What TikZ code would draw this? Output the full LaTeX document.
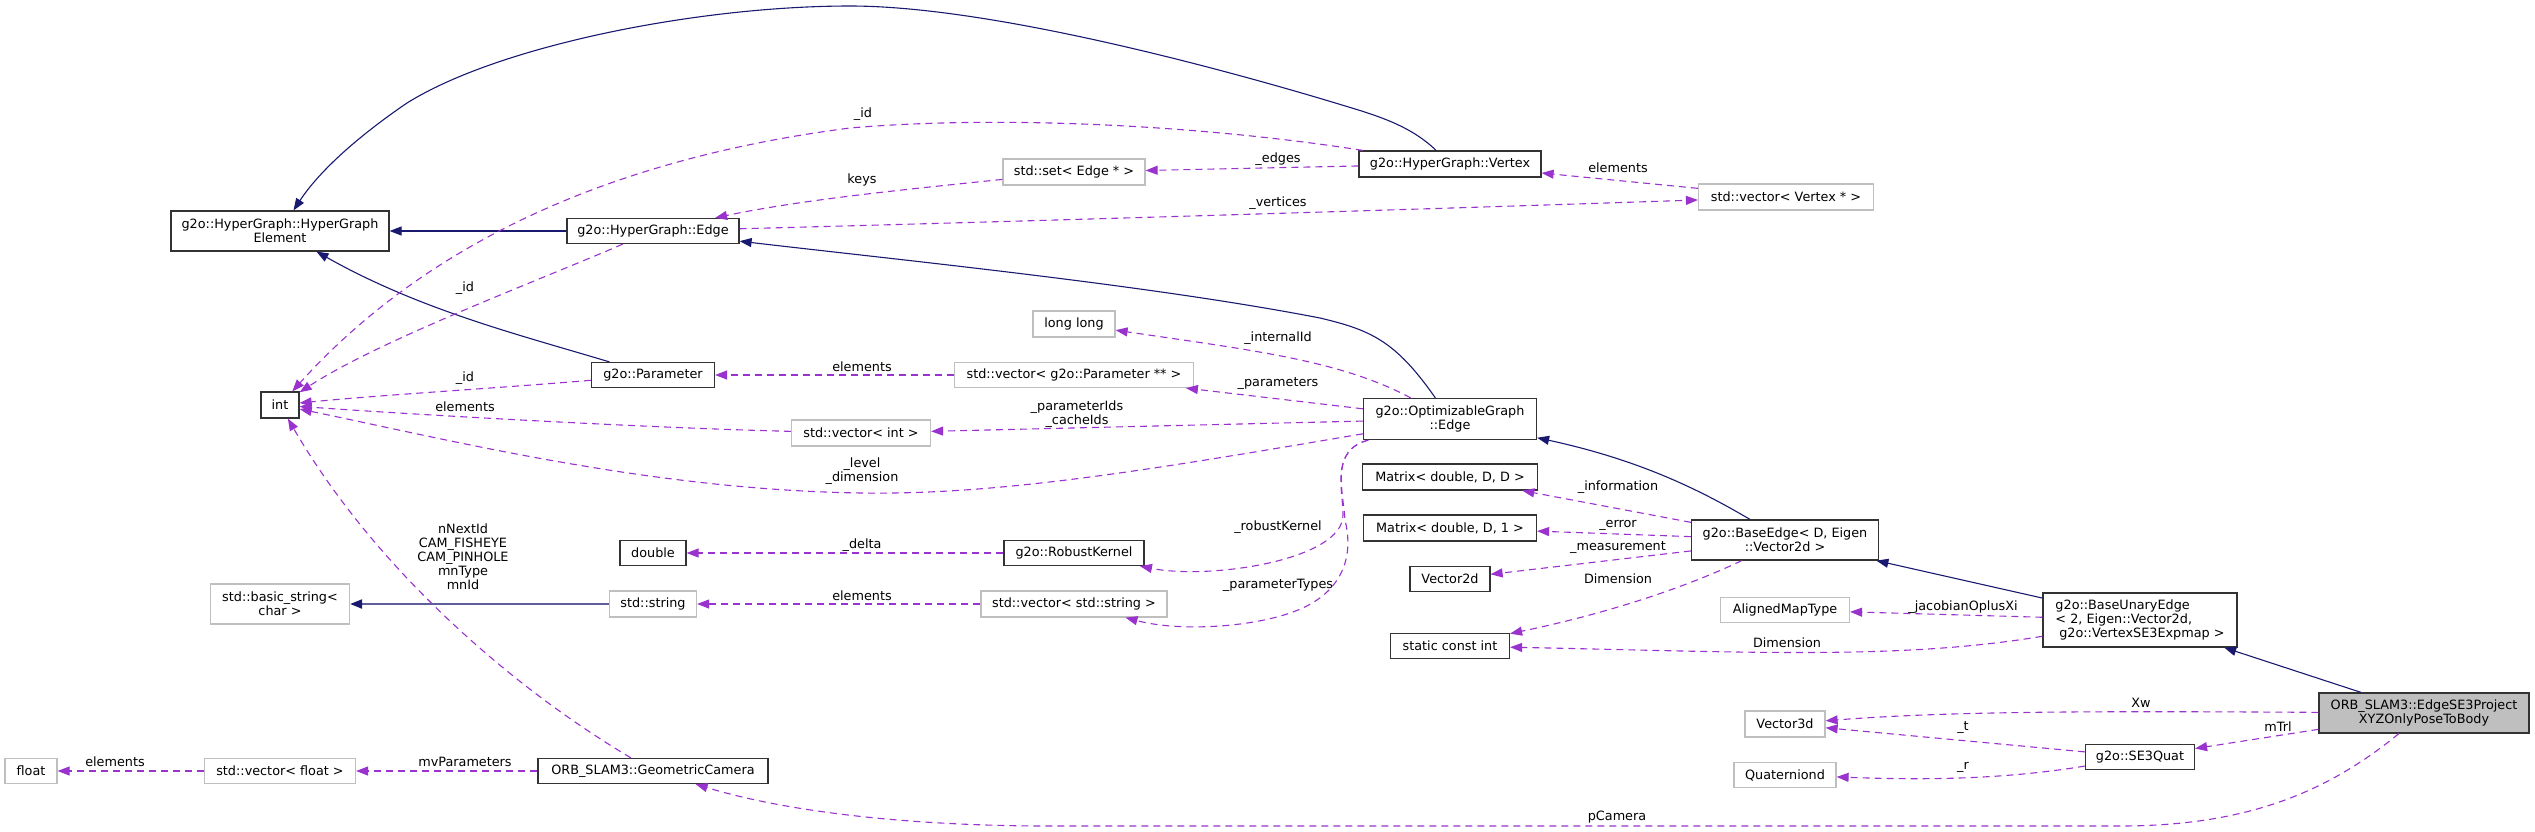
\documentclass[tikz,border=0pt]{standalone}
\usepackage{fontspec}
\setmainfont{DejaVu Sans}
\usetikzlibrary{arrows.meta}
\definecolor{navyline}{HTML}{191970}
\definecolor{orchid}{HTML}{9A32CD}
\definecolor{boxgray}{HTML}{BFBFBF}

\begin{document}
\begin{tikzpicture}[
    x=1pt, y=-1pt,
    every node/.style={font=\fontsize{12.8}{14}\selectfont, align=center, inner sep=0pt},
    sz/.style 2 args={minimum width=#1pt, minimum height=#2pt},
    box/.style={rectangle, draw, line width=1.2pt, fill=white},
    cls/.style={box, draw=black!80},
    ext/.style={box, draw=boxgray},
    focus/.style={box, draw=black!80, fill=boxgray},
    inherit/.style={-{Triangle[length=12pt, width=9pt]}, line width=1.1pt, draw=navyline},
    instance/.style={-{Triangle[length=12pt, width=9pt, color=navyline]}, line width=2pt, draw=navyline!70},
    member/.style={-{Triangle[length=12pt, width=9pt]}, line width=1.1pt, draw=orchid, dash pattern=on 7pt off 5pt}
]
\useasboundingbox (0,0) rectangle (2535,831);

% Klassen
\node[cls, sz={218}{40}] (hge) at (280,231) {g2o::HyperGraph::HyperGraph\\Element};
\node[cls, sz={172}{25}] (hgedge) at (653,231) {g2o::HyperGraph::Edge};
\node[cls, sz={123}{25}] (param) at (653,375) {g2o::Parameter};
\node[cls, sz={38}{26}] (int) at (280,405) {int};
\node[ext, sz={142}{26}] (edgeset) at (1074,172) {std::set< Edge * >};
\node[cls, sz={182}{26}] (vertex) at (1450,164) {g2o::HyperGraph::Vertex};
\node[ext, sz={175}{26}] (vertexvec) at (1786,197) {std::vector< Vertex * >};
\node[ext, sz={82}{26}] (longlong) at (1074,324) {long long};
\node[ext, sz={239}{25}] (paramvec) at (1074,375) {std::vector< g2o::Parameter ** >};
\node[ext, sz={139}{26}] (intvec) at (861,433) {std::vector< int >};
\node[cls, sz={173}{41}] (optedge) at (1450,419) {g2o::OptimizableGraph\\::Edge};
\node[cls, sz={175}{26}] (infomat) at (1450,477) {Matrix< double, D, D >};
\node[cls, sz={173}{26}] (errmat) at (1450,528) {Matrix< double, D, 1 >};
\node[cls, sz={80}{25}] (vectwo) at (1450,579) {Vector2d};
\node[cls, sz={119}{25}] (constint) at (1450,646) {static const int};
\node[cls, sz={140}{25}] (kernel) at (1074,553) {g2o::RobustKernel};
\node[ext, sz={186}{26}] (stringvec) at (1074,604) {std::vector< std::string >};
\node[cls, sz={66}{25}] (double) at (653,553) {double};
\node[ext, sz={87}{26}] (string) at (653,604) {std::string};
\node[ext, sz={139}{40}] (basicstr) at (280,604) {std::basic\_string<\\char >};
\node[ext, sz={52}{25}] (float) at (31,771) {float};
\node[ext, sz={151}{25}] (floatvec) at (280,771) {std::vector< float >};
\node[cls, sz={230}{25}] (camera) at (653,771) {ORB\_SLAM3::GeometricCamera};
\node[cls, sz={187}{40}] (baseedge) at (1785,540) {g2o::BaseEdge< D, Eigen\\::Vector2d >};
\node[ext, sz={129}{25}] (aligned) at (1785,610) {AlignedMapType};
\node[cls, sz={194}{54}, align=left] (unary) at (2140,620) {g2o::BaseUnaryEdge\\< 2, Eigen::Vector2d,\\\hspace*{0.3em}g2o::VertexSE3Expmap >};
\node[ext, sz={80}{26}] (vecthree) at (1785,724) {Vector3d};
\node[ext, sz={102}{25}] (quat) at (1785,775) {Quaterniond};
\node[cls, sz={109}{25}] (se3) at (2140,757) {g2o::SE3Quat};
\node[focus, sz={210}{40}] (edgexyz) at (2424,713) {ORB\_SLAM3::EdgeSE3Project\\XYZOnlyPoseToBody};

% Vererbung
\draw[inherit] (hgedge) -- (hge);
\draw[inherit] (vertex) .. controls (1410,125) and (1375,115) .. (1342,105)
    .. controls (1250,77) and (1000,6) .. (850,6)
    .. controls (700,6) and (500,45) .. (407,103)
    .. controls (360,135) and (320,170) .. (hge);
\draw[inherit] (param) .. controls (520,335) and (420,310) .. (hge);
\draw[inherit] (optedge) .. controls (1395,340) and (1370,330) .. (1320,318)
    .. controls (1150,285) and (900,260) .. (hgedge);
\draw[inherit] (baseedge) .. controls (1700,490) and (1640,460) .. (optedge);
\draw[inherit] (unary) -- (baseedge);
\draw[inherit] (edgexyz) -- (unary);
\draw[instance] (string) -- (basicstr);

% Member
\draw[member] (vertex) .. controls (1200,125) and (1000,115) .. (850,128)
    .. controls (600,160) and (420,250) .. (int);
\draw[member] (hgedge) .. controls (540,280) and (380,340) .. (int);
\draw[member] (param) .. controls (500,388) and (380,395) .. (int);
\draw[member] (intvec) .. controls (650,428) and (420,415) .. (int);
\draw[member] (optedge) .. controls (1150,470) and (1000,495) .. (862,493)
    .. controls (650,490) and (450,440) .. (int);
\draw[member] (camera) .. controls (500,680) and (370,560) .. (int);
\draw[member] (edgeset) .. controls (900,190) and (800,200) .. (hgedge);
\draw[member] (vertex) -- (edgeset);
\draw[member] (vertexvec) -- (vertex);
\draw[member] (hgedge) .. controls (1000,222) and (1400,210) .. (vertexvec);
\draw[member] (paramvec) -- (param);
\draw[member] (optedge) .. controls (1340,360) and (1250,350) .. (longlong);
\draw[member] (optedge) -- (paramvec);
\draw[member] (optedge) -- (intvec);
\draw[member] (optedge) .. controls (1330,450) and (1343,490) .. (1343,515)
    .. controls (1343,560) and (1210,580) .. (kernel);
\draw[member] (optedge) .. controls (1330,450) and (1343,490) .. (1345,520)
    .. controls (1356,565) and (1335,598) .. (1290,613)
    .. controls (1250,627) and (1180,632) .. (stringvec);
\draw[member] (kernel) -- (double);
\draw[member] (stringvec) -- (string);
\draw[member] (baseedge) -- (infomat);
\draw[member] (baseedge) -- (errmat);
\draw[member] (baseedge) -- (vectwo);
\draw[member] (baseedge) .. controls (1680,590) and (1600,615) .. (constint);
\draw[member] (unary) -- (aligned);
\draw[member] (unary) .. controls (1900,660) and (1750,652) .. (constint);
\draw[member] (edgexyz) .. controls (2100,711) and (1950,711) .. (vecthree);
\draw[member] (edgexyz) -- (se3);
\draw[member] (se3) -- (vecthree);
\draw[member] (se3) .. controls (2000,780) and (1920,780) .. (quat);
\draw[member] (edgexyz) .. controls (2330,790) and (2250,826) .. (2120,826)
    -- (1050,826) .. controls (900,826) and (780,810) .. (camera);
\draw[member] (camera) -- (floatvec);
\draw[member] (floatvec) -- (float);

% Beschriftungen
\node (lid1) at (863,114) {\_id};
\node (lkeys) at (862,180) {keys};
\node (ledges) at (1278,159) {\_edges};
\node (lvelem) at (1618,168) {elements};
\node (lverts) at (1278,203) {\_vertices};
\node (lid2) at (465,288) {\_id};
\node (linternal) at (1278,338) {\_internalId};
\node (lpelem) at (862,367) {elements};
\node (lid3) at (465,378) {\_id};
\node (lparams) at (1278,384) {\_parameters};
\node (lielem) at (465,407) {elements};
\node (lids) at (1077,414) {\_parameterIds\\\_cacheIds};
\node (llevel) at (862,471) {\_level\\\_dimension};
\node (linfo) at (1618,487) {\_information};
\node (lerror) at (1618,525) {\_error};
\node (ldelta) at (862,545) {\_delta};
\node (lkernel) at (1278,527) {\_robustKernel};
\node (lmeas) at (1618,548) {\_measurement};
\node (lstatic) at (463,557) {nNextId\\CAM\_FISHEYE\\CAM\_PINHOLE\\mnType\\mnId};
\node (ldim1) at (1618,579) {Dimension};
\node (ltypes) at (1278,585) {\_parameterTypes};
\node (lselem) at (862,596) {elements};
\node (ljac) at (1963,607) {\_jacobianOplusXi};
\node (ldim2) at (1787,643) {Dimension};
\node (lxw) at (2141,703) {Xw};
\node (lmtrl) at (2278,727) {mTrl};
\node (lt) at (1963,728) {\_t};
\node (lr) at (1963,767) {\_r};
\node (lmv) at (465,762) {mvParameters};
\node (lfelem) at (115,762) {elements};
\node (lcam) at (1617,817) {pCamera};
\end{tikzpicture}
\end{document}
